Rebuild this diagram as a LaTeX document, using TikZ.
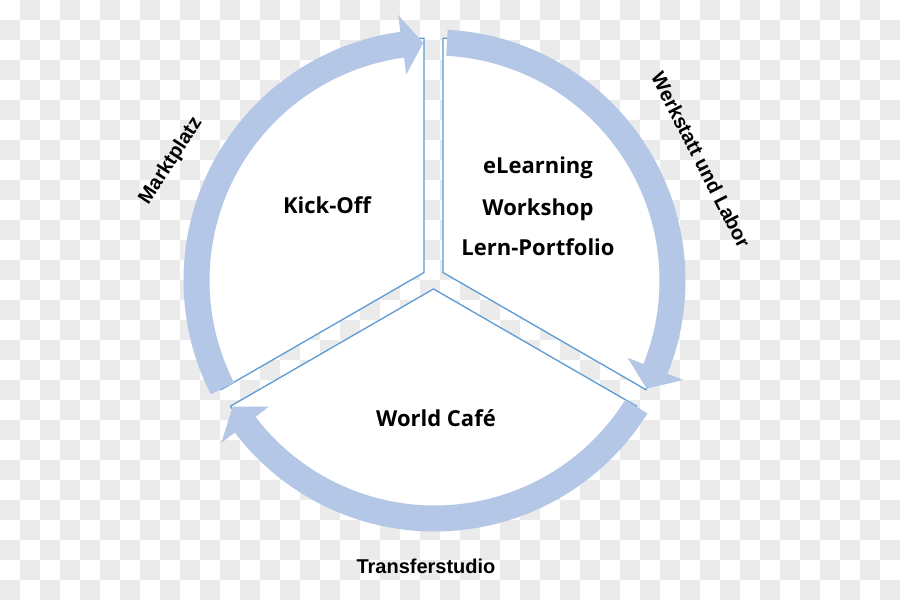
\documentclass[tikz,border=0pt]{standalone}
\usepackage{fontspec}
\setmainfont{Open Sans}
\newfontfamily\labfont{Liberation Sans}
\usetikzlibrary{calc}
\definecolor{bandc}{HTML}{B4C7E7}
\definecolor{edgec}{HTML}{5B9BD5}
\definecolor{chk}{HTML}{EBEBEB}
\newcommand\ringarrow[3]{% #1 tail angle, #2 head base angle, #3 tip angle
  \fill[band] ($(R)+(#1:251)$) arc[start angle=#1, end angle=#2, radius=251]
    -- ($(R)+(#2:268)$) -- ($(R)+(#3:238)$) -- ($(R)+(#2:208)$)
    -- ($(R)+(#2:225)$) arc[start angle=#2, end angle=#1, radius=225] -- cycle;}
\begin{document}
\begin{tikzpicture}[x=1pt,y=1pt,
  sector/.style={fill=white, draw=edgec, line width=1.3pt, line join=miter},
  band/.style={fill=bandc, draw=none},
  maintext/.style={font=\fontsize{22}{26}\selectfont\bfseries, anchor=base, inner sep=0pt},
  ringlabel/.style={font=\labfont\fontsize{20}{24}\selectfont\bfseries, inner sep=0pt}]
\useasboundingbox (0,0) rectangle (900,600);
\fill[white] (0,0) rectangle (900,600);
% checkerboard background
\foreach \i in {0,...,44} {
  \foreach \j in {0,...,29} {
    \pgfmathtruncatemacro\myparity{mod(\i+\j,2)}
    \ifnum\myparity=1 \fill[chk] (\i*20, 580-\j*20) rectangle ++(20,20); \fi
  }
}
\coordinate (S) at (433.5,322);
\coordinate (R) at (434.5,319.5);
% sectors
\draw[sector] ($(S)+(150:10.97)$) -- ($(S)+(92.27:240)$)
  arc[start angle=92.27, end angle=207.73, radius=240] -- cycle;
\draw[sector] ($(S)+(30:10.97)$) -- ($(S)+(87.73:240)$)
  arc[start angle=87.73, end angle=-27.73, radius=240] -- cycle;
\draw[sector] ($(S)+(270:10.97)$) -- ($(S)+(212.27:240)$)
  arc[start angle=212.27, end angle=327.73, radius=240] -- cycle;
% ring arrows
\ringarrow{207}{97.8}{92.7}
\ringarrow{87}{-21.8}{-27}
\ringarrow{328}{217.3}{212}
% texts
\node[maintext] (kick) at (327,386) {Kick-Off};
\node[maintext] (el) at (538,426) {eLearning};
\node[maintext] (ws) at (538,384) {Workshop};
\node[maintext] (lp) at (538,344) {Lern-Portfolio};
\node[maintext] (wc) at (436,173) {World Café};
\node[ringlabel, rotate=57] (mp) at (171,439) {Marktplatz};
\node[ringlabel, rotate=-63] (wl) at (701,440) {Werkstatt und Labor};
\node[ringlabel, anchor=base] (ts) at (426,26) {Transferstudio};
\end{tikzpicture}
\end{document}
